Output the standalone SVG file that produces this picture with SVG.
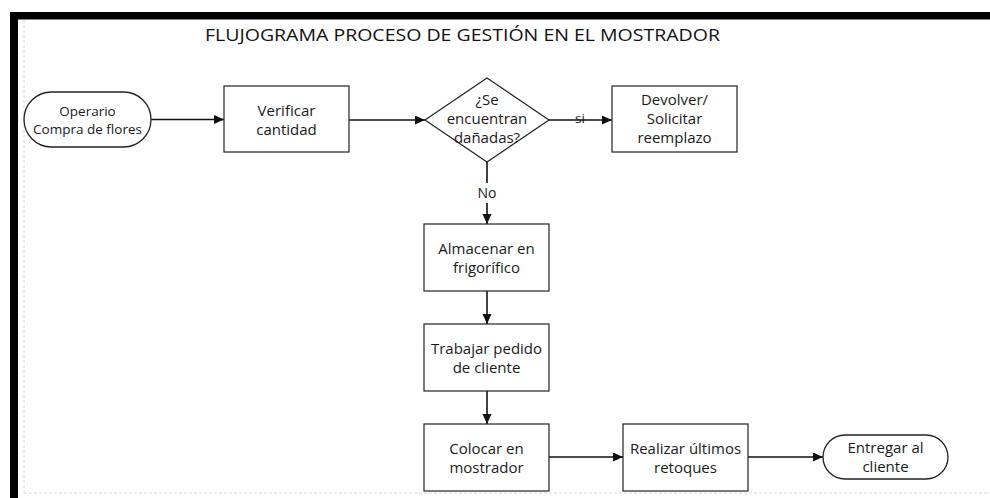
<svg xmlns="http://www.w3.org/2000/svg" width="990" height="498" viewBox="0 0 990 498">
<style>
.box{fill:#fff;stroke:#222;stroke-width:1.2}
.term{fill:#fff;stroke:#222;stroke-width:1.3}
.t{font-family:"Open Sans","Noto Sans",sans-serif;font-size:15px;fill:#1a1a1a;text-anchor:middle}
.s{font-size:13.5px}
.title{font-family:"Open Sans","Noto Sans",sans-serif;font-size:16px;fill:#111}
.c{stroke:#111;stroke-width:1.6;fill:none}
.ca{stroke:#111;stroke-width:1.6;fill:none;marker-end:url(#ah)}
.guide{stroke:#d8d8d8;stroke-width:1;stroke-dasharray:3,2;fill:none}
</style>
<defs>
<marker id="ah" markerUnits="userSpaceOnUse" markerWidth="11" markerHeight="10" refX="10" refY="4.5" orient="auto">
<path d="M0,0 L10,4.5 L0,9 z" fill="#111"/>
</marker>
</defs>
<rect x="0" y="0" width="990" height="498" fill="#fff"/>
<g id="frame">
<rect x="10" y="12" width="980" height="7.5" fill="#000"/>
<rect x="10" y="12" width="8" height="486" fill="#000"/>
<line class="guide" x1="24" y1="20" x2="24" y2="493"/>
<line class="guide" x1="24" y1="493" x2="990" y2="493"/>
</g>
<text class="title" x="205" y="41" textLength="515" lengthAdjust="spacingAndGlyphs">FLUJOGRAMA PROCESO DE GESTIÓN EN EL MOSTRADOR</text>
<g id="connectors">
<line class="ca" x1="151" y1="119.5" x2="224" y2="119.5"/>
<line class="ca" x1="349" y1="120" x2="425" y2="120"/>
<line class="ca" x1="549" y1="120" x2="612" y2="120"/>
<text class="t s" x="580" y="123">si</text>
<line class="c" x1="487" y1="162" x2="487" y2="183"/>
<text class="t" x="487" y="198" style="font-size:14px">No</text>
<line class="ca" x1="487" y1="203" x2="487" y2="224"/>
<line class="ca" x1="487" y1="291" x2="487" y2="324"/>
<line class="ca" x1="487" y1="391" x2="487" y2="424"/>
<line class="ca" x1="549" y1="457" x2="623" y2="457"/>
<line class="ca" x1="748" y1="457" x2="823" y2="457"/>
</g>
<g id="start">
<rect class="term" x="24" y="92" width="127" height="55" rx="27.5" ry="27.5"/>
<text class="t s" x="87.5" y="116">Operario</text>
<text class="t s" x="87.5" y="133.5">Compra de flores</text>
</g>
<g id="verificar">
<rect class="box" x="224" y="86" width="125" height="66"/>
<text class="t" x="286.5" y="115.5">Verificar</text>
<text class="t" x="286.5" y="134.5">cantidad</text>
</g>
<g id="decision">
<polygon class="box" points="487,78 549,120 487,162 425,120"/>
<text class="t" x="487" y="104.5">¿Se</text>
<text class="t" x="487" y="123.5">encuentran</text>
<text class="t" x="487" y="142.5">dañadas?</text>
</g>
<g id="devolver">
<rect class="box" x="612" y="86" width="125" height="66"/>
<text class="t" x="674.5" y="104.5">Devolver/</text>
<text class="t" x="674.5" y="123.5">Solicitar</text>
<text class="t" x="674.5" y="142.5">reemplazo</text>
</g>
<g id="almacenar">
<rect class="box" x="424" y="224" width="125" height="67"/>
<text class="t" x="486.5" y="253.5">Almacenar en</text>
<text class="t" x="486.5" y="272.5">frigorífico</text>
</g>
<g id="trabajar">
<rect class="box" x="424" y="324" width="125" height="67"/>
<text class="t" x="486.5" y="353.5">Trabajar pedido</text>
<text class="t" x="486.5" y="372.5">de cliente</text>
</g>
<g id="colocar">
<rect class="box" x="424" y="424" width="125" height="67"/>
<text class="t" x="486.5" y="453.5">Colocar en</text>
<text class="t" x="486.5" y="472.5">mostrador</text>
</g>
<g id="realizar">
<rect class="box" x="623" y="424" width="125" height="67"/>
<text class="t" x="685.5" y="453.5">Realizar últimos</text>
<text class="t" x="685.5" y="472.5">retoques</text>
</g>
<g id="entregar">
<rect class="term" x="823" y="435" width="125" height="44" rx="22" ry="22"/>
<text class="t" x="885.5" y="452.5">Entregar al</text>
<text class="t" x="885.5" y="471.5">cliente</text>
</g>
</svg>
